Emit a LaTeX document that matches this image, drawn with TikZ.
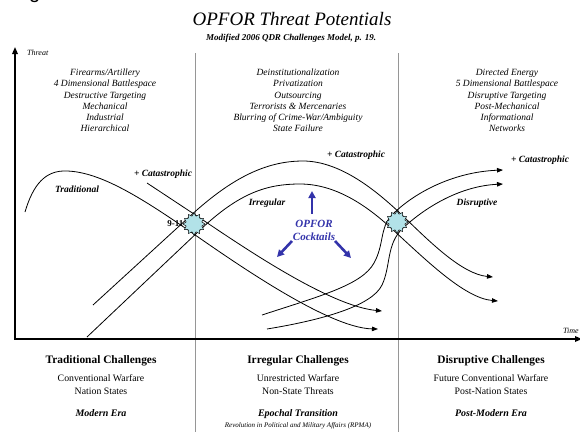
\documentclass[tikz,border=0pt]{standalone}
\usepackage{fontspec}
\setmainfont{Liberation Serif}
\newfontfamily\arialfont{Liberation Sans}
\usetikzlibrary{arrows.meta,shapes.geometric}

\definecolor{opforblue}{RGB}{51,51,170}
\definecolor{blastfill}{RGB}{178,226,232}
\definecolor{dividergray}{RGB}{150,150,150}

\tikzset{
	curve/.style={line width=.8pt},
	tipped/.style={curve,-{Triangle[length=6pt,width=4.5pt]}},
	axisline/.style={line width=1.6pt,{Triangle[length=7pt,width=5.5pt]}-{Triangle[length=7pt,width=5.5pt]}},
	divline/.style={dividergray,line width=.8pt},
	blast/.style={star,star points=12,star point ratio=1.35,minimum size=22pt,inner sep=0pt,draw,line width=.5pt,fill=blastfill},
	curvelbl/.style={inner sep=0pt,font=\fontsize{9.5}{11}\selectfont\bfseries\itshape},
	colhead/.style={anchor=north,align=center,inner sep=0pt,font=\fontsize{9.5}{11.2}\selectfont\itshape},
	challenge/.style={anchor=base,inner sep=0pt,font=\fontsize{11.4}{13}\selectfont\bfseries},
	challtext/.style={anchor=north,align=center,inner sep=0pt,font=\fontsize{9.8}{13}\selectfont},
	era/.style={anchor=base,inner sep=0pt,font=\fontsize{10}{12}\selectfont\bfseries\itshape},
	bluearrow/.style={opforblue,line width=2.6pt,-{Triangle[length=7pt,width=7pt]}}
}

\begin{document}
\begin{tikzpicture}[x=1pt,y=-1pt]
	\useasboundingbox (0,0) rectangle (580,432);

	% bit of the caption above, cut off by the page
	\node[anchor=base west,inner sep=0pt] (figfrag) at (29,-1.5) {\arialfont\fontsize{20}{24}\selectfont g};

	% titles
	\node[inner sep=0pt,anchor=base] (title) at (292,25) {\fontsize{19}{22}\selectfont\itshape OPFOR Threat Potentials};
	\node[inner sep=0pt,anchor=base] (subtitle) at (291,40) {\fontsize{9}{11}\selectfont\bfseries\itshape Modified 2006 QDR Challenges Model, p. 19.};

	% column dividers
	\draw[divline] (195,53) -- (195,432);
	\draw[divline] (398,53) -- (398,432);

	% axes
	\coordinate (yTip) at (15,47);
	\coordinate (xTip) at (582,339);
	\draw[axisline] (yTip) |- (xTip);
	\node[anchor=west,inner sep=0pt] (threat) at (27,53) {\fontsize{8}{9}\selectfont\itshape Threat};
	\node[anchor=west,inner sep=0pt] (time) at (563,331) {\fontsize{8}{9}\selectfont\itshape Time};

	% column texts
	\node[colhead] (tradlist) at (105,69) {Firearms/Artillery\\4 Dimensional Battlespace\\Destructive Targeting\\Mechanical\\Industrial\\Hierarchical};
	\node[colhead] (irrlist) at (298,69) {Deinstitutionalization\\Privatization\\Outsourcing\\Terrorists \& Mercenaries\\Blurring of Crime-War/Ambiguity\\State Failure};
	\node[colhead] (disrlist) at (507,69) {Directed Energy\\5 Dimensional Battlespace\\Disruptive Targeting\\Post-Mechanical\\Informational\\Networks};

	% traditional
	\coordinate (tradStart) at (25,212);
	\coordinate (tradEnd) at (378,329);
	\draw[tipped] (tradStart) .. controls (33,185) and (45,170) .. (67,171)
		.. controls (100,172) and (140,197) .. (188,230)
		.. controls (234,262) and (328,328) .. (tradEnd);
	\coordinate (catAStart) at (147,183);
	\coordinate (catAEnd) at (382,311);
	\draw[tipped] (catAStart) -- (200,218) .. controls (246,249) and (330,306) .. (catAEnd);

	% irregular
	\coordinate (catBStart) at (93,305);
	\coordinate (catBEnd) at (493,277);
	\draw[tipped] (catBStart) -- (188,218) .. controls (230,179) and (265,161) .. (303,161)
		.. controls (341,161) and (378,192) .. (403,216)
		.. controls (430,242) and (462,274) .. (catBEnd);
	\coordinate (irrStart) at (87,337);
	\coordinate (irrEnd) at (498,301);
	\draw[tipped] (irrStart) -- (200,230) .. controls (240,192) and (268,184) .. (300,184)
		.. controls (335,184) and (366,205) .. (391,228)
		.. controls (425,259) and (464,298) .. (irrEnd);

	% disruptive
	\coordinate (catCStart) at (262,315);
	\coordinate (catCEnd) at (503,170);
	\draw[tipped] (catCStart) .. controls (320,296) and (362,285) .. (374,263)
		.. controls (384,245) and (380,228) .. (391,216)
		.. controls (412,194) and (452,172) .. (catCEnd);
	\coordinate (disrStart) at (267,329);
	\coordinate (disrEnd) at (503,184);
	\draw[tipped] (disrStart) .. controls (322,320) and (372,306) .. (382,285)
		.. controls (391,266) and (386,244) .. (403,228)
		.. controls (428,205) and (462,186) .. (disrEnd);

	% blasts
	\node[blast] (blastA) at (194,224) {};
	\node[blast] (blastB) at (397,222) {};
	\node[curvelbl,font=\fontsize{9}{10}\selectfont\bfseries,anchor=east] (nineeleven) at ([xshift=1pt]blastA.west) {9-11};

	% curve labels
	\node[curvelbl] (tradlbl) at (77,189) {Traditional};
	\node[curvelbl] (catAlbl) at (163,174) {+ Catastrophic};
	\node[curvelbl] (irrlbl) at (267,203) {Irregular};
	\node[curvelbl] (catBlbl) at (356,155) {+ Catastrophic};
	\node[curvelbl] (disrlbl) at (477,203) {Disruptive};
	\node[curvelbl] (catClbl) at (540,160) {+ Catastrophic};

	% opfor cocktails
	\node[curvelbl,align=center,text=opforblue,font=\fontsize{11}{13}\selectfont\bfseries\itshape] (cocktail) at (314,230) {OPFOR\\Cocktails};
	\coordinate (upFoot) at (312,214);
	\coordinate (upTip) at (312,191);
	\coordinate (leftFoot) at (292,241);
	\coordinate (leftTip) at (277,257);
	\coordinate (rightFoot) at (335,241);
	\coordinate (rightTip) at (351,258);
	\draw[bluearrow] (upFoot) -- (upTip);
	\draw[bluearrow] (leftFoot) -- (leftTip);
	\draw[bluearrow] (rightFoot) -- (rightTip);

	% challenges
	\node[challenge] (tradhead) at (101,363) {Traditional Challenges};
	\node[challenge] (irrhead) at (298,363) {Irregular Challenges};
	\node[challenge] (disrhead) at (491,363) {Disruptive Challenges};
	\node[challtext] (tradtext) at (101,374.8) {Conventional Warfare\\Nation States};
	\node[challtext] (irrtext) at (298,374.8) {Unrestricted Warfare\\Non-State Threats};
	\node[challtext] (disrtext) at (491,374.8) {Future Conventional Warfare\\Post-Nation States};
	\node[era] (modern) at (101,416.5) {Modern Era};
	\node[era] (epochal) at (298,416.5) {Epochal Transition};
	\node[era] (postmodern) at (491,416.5) {Post-Modern Era};
	\node[anchor=base,inner sep=0pt,font=\fontsize{7}{8}\selectfont\itshape] (rpma) at (298,427.5) {Revolution in Political and Military Affairs (RPMA)};
\end{tikzpicture}
\end{document}
